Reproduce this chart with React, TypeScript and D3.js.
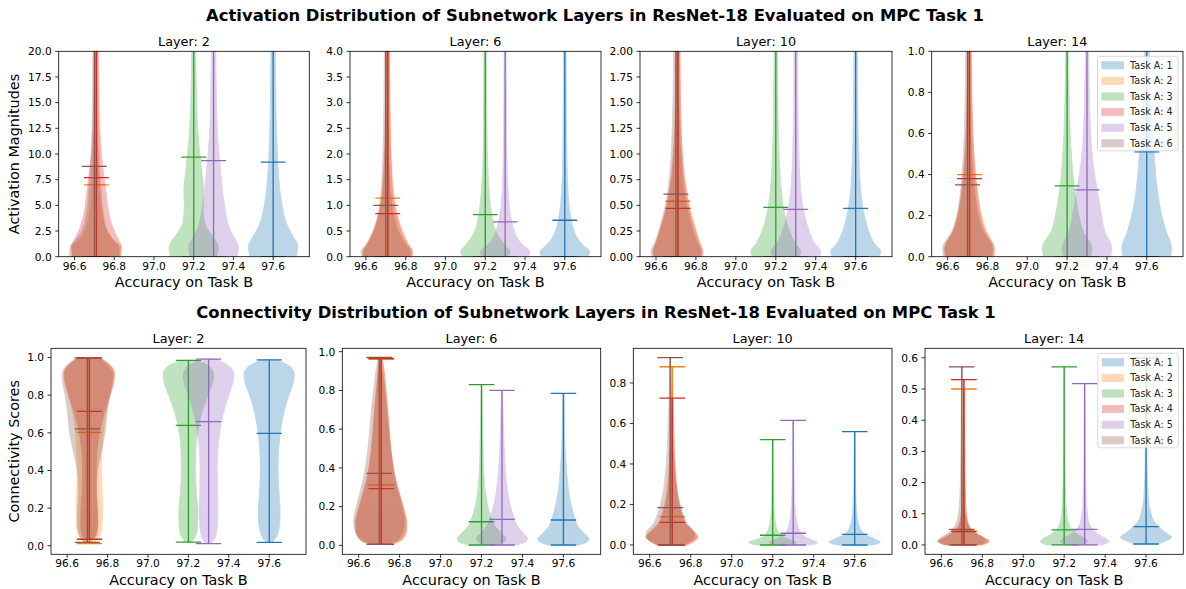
import React from "react";
import * as d3 from "d3";

type Profile = [number, number][];

// violins: one per Task A, placed at its accuracy on Task B
const taskLabels = ["Task A: 1", "Task A: 2", "Task A: 3", "Task A: 4", "Task A: 5", "Task A: 6"];
const taskColors = ["#1f77b4", "#ff7f0e", "#2ca02c", "#d62728", "#9467bd", "#8c564b"];
const taskAccuracy = [97.6, 96.71, 97.2, 96.71, 97.3, 96.7];
const layers = [2, 6, 10, 14];
const xTicks = [96.6, 96.8, 97.0, 97.2, 97.4, 97.6];
const xDomain: [number, number] = [96.52, 97.782];
const violinWidth = 0.25;

// activation magnitudes (top row)
const actYDomains: [number, number][] = [[0, 20], [0, 4], [0, 2], [0, 1]];
const actYTicks = [
  [0, 2.5, 5, 7.5, 10, 12.5, 15, 17.5, 20],
  [0, 0.5, 1, 1.5, 2, 2.5, 3, 3.5, 4],
  [0, 0.25, 0.5, 0.75, 1, 1.25, 1.5, 1.75, 2],
  [0, 0.2, 0.4, 0.6, 0.8, 1],
];
const actTickDigits = [1, 1, 2, 1];
const actMeans = [
  [9.2, 7.0, 9.7, 7.7, 9.35, 8.8],
  [0.71, 1.14, 0.82, 0.84, 0.68, 1.0],
  [0.47, 0.54, 0.48, 0.47, 0.46, 0.61],
  [0.51, 0.4, 0.345, 0.38, 0.325, 0.35],
];
const actMins = [
  [0, 0, 0, 0, 0, 0],
  [0, 0, 0, 0, 0, 0],
  [0, 0, 0, 0, 0, 0],
  [0, 0, 0, 0, 0, 0],
];
const actMaxes = [
  [25, 25, 25, 25, 25, 25],
  [5, 5, 5, 5, 5, 5],
  [2.5, 2.5, 2.5, 2.5, 2.5, 2.5],
  [1.2, 1.2, 1.2, 1.2, 1.2, 1.2],
];

const actLayer2: Profile[] = [
  [[0, 0.93], [1, 1], [1.8, 0.85], [2.6, 0.66], [3.5, 0.5], [5, 0.36], [7.5, 0.23], [10, 0.17], [12.5, 0.13], [15, 0.11], [20, 0.09], [25, 0.07]],
  [[0, 0.98], [1, 1], [1.5, 0.75], [2.5, 0.45], [4, 0.3], [6, 0.2], [8, 0.15], [10, 0.11], [15, 0.07], [20, 0.05], [25, 0.04]],
  [[0, 0.93], [0.8, 1], [1.5, 0.9], [2.5, 0.6], [3.5, 0.42], [5, 0.38], [6.5, 0.4], [8, 0.34], [10, 0.25], [12.5, 0.16], [15, 0.12], [20, 0.08], [25, 0.06]],
  [[0, 0.95], [1, 1], [1.6, 0.9], [2.5, 0.72], [4, 0.52], [6, 0.4], [8, 0.3], [10, 0.2], [12.5, 0.14], [15, 0.11], [20, 0.08], [25, 0.06]],
  [[0, 0.95], [1, 1], [1.8, 0.85], [2.6, 0.67], [3.5, 0.55], [5, 0.44], [7.5, 0.32], [10, 0.22], [12.5, 0.15], [15, 0.12], [20, 0.09], [25, 0.07]],
  [[0, 1], [1, 0.98], [1.5, 0.8], [2.5, 0.5], [4, 0.33], [6, 0.24], [8, 0.18], [10, 0.13], [15, 0.08], [20, 0.06], [25, 0.05]],
];
const actLayer6: Profile[] = [
  [[0, 0.93], [0.1, 1], [0.2, 0.8], [0.3, 0.6], [0.5, 0.38], [0.8, 0.23], [1.2, 0.14], [1.8, 0.09], [2.5, 0.07], [3.2, 0.06], [4, 0.05], [5, 0.04]],
  [[0, 1], [0.1, 0.98], [0.25, 0.82], [0.5, 0.6], [0.8, 0.4], [1.2, 0.25], [1.8, 0.15], [2.5, 0.1], [3.2, 0.08], [4, 0.07], [5, 0.06]],
  [[0, 0.92], [0.1, 1], [0.2, 0.84], [0.35, 0.6], [0.5, 0.42], [0.8, 0.27], [1.2, 0.17], [1.8, 0.1], [2.5, 0.07], [3.2, 0.06], [4, 0.05], [5, 0.04]],
  [[0, 0.95], [0.1, 1], [0.25, 0.8], [0.5, 0.55], [0.8, 0.36], [1.2, 0.22], [1.8, 0.14], [2.5, 0.1], [3.2, 0.08], [4, 0.07], [5, 0.06]],
  [[0, 0.94], [0.1, 1], [0.2, 0.78], [0.3, 0.58], [0.5, 0.37], [0.8, 0.22], [1.2, 0.13], [1.8, 0.08], [2.5, 0.06], [3.2, 0.05], [4, 0.04], [5, 0.035]],
  [[0, 0.97], [0.1, 1], [0.25, 0.78], [0.5, 0.5], [0.8, 0.32], [1.2, 0.2], [1.8, 0.13], [2.5, 0.09], [3.2, 0.07], [4, 0.06], [5, 0.05]],
];
const actLayer10: Profile[] = [
  [[0, 0.95], [0.05, 1], [0.13, 0.75], [0.25, 0.52], [0.4, 0.35], [0.6, 0.22], [0.9, 0.14], [1.4, 0.09], [2, 0.07], [2.5, 0.06]],
  [[0, 1], [0.05, 0.98], [0.15, 0.86], [0.3, 0.68], [0.45, 0.5], [0.6, 0.38], [0.8, 0.26], [1.1, 0.16], [1.5, 0.1], [2, 0.08], [2.5, 0.07]],
  [[0, 0.95], [0.05, 1], [0.13, 0.78], [0.25, 0.55], [0.4, 0.37], [0.6, 0.24], [0.9, 0.15], [1.4, 0.09], [2, 0.07], [2.5, 0.06]],
  [[0, 0.95], [0.05, 1], [0.15, 0.85], [0.3, 0.65], [0.45, 0.48], [0.6, 0.36], [0.8, 0.24], [1.1, 0.15], [1.5, 0.1], [2, 0.08], [2.5, 0.07]],
  [[0, 0.96], [0.05, 1], [0.13, 0.76], [0.25, 0.54], [0.4, 0.36], [0.6, 0.22], [0.9, 0.14], [1.4, 0.09], [2, 0.07], [2.5, 0.06]],
  [[0, 0.97], [0.05, 1], [0.15, 0.83], [0.3, 0.63], [0.45, 0.47], [0.6, 0.35], [0.8, 0.25], [1.1, 0.17], [1.5, 0.12], [2, 0.09], [2.5, 0.08]],
];
const actLayer14: Profile[] = [
  [[0, 0.96], [0.04, 1], [0.13, 0.76], [0.25, 0.52], [0.4, 0.36], [0.55, 0.27], [0.7, 0.19], [0.85, 0.13], [1, 0.1], [1.2, 0.07]],
  [[0, 1], [0.04, 0.98], [0.13, 0.66], [0.22, 0.45], [0.3, 0.34], [0.45, 0.21], [0.6, 0.14], [0.8, 0.09], [1, 0.07], [1.2, 0.06]],
  [[0, 0.94], [0.04, 1], [0.13, 0.62], [0.22, 0.44], [0.3, 0.33], [0.45, 0.2], [0.6, 0.13], [0.8, 0.08], [1, 0.06], [1.2, 0.05]],
  [[0, 0.95], [0.04, 1], [0.13, 0.62], [0.22, 0.42], [0.3, 0.32], [0.45, 0.2], [0.6, 0.13], [0.8, 0.09], [1, 0.07], [1.2, 0.06]],
  [[0, 0.95], [0.04, 1], [0.13, 0.7], [0.22, 0.56], [0.3, 0.45], [0.45, 0.25], [0.6, 0.15], [0.8, 0.09], [1, 0.07], [1.2, 0.06]],
  [[0, 0.97], [0.04, 1], [0.13, 0.6], [0.22, 0.4], [0.3, 0.3], [0.45, 0.19], [0.6, 0.13], [0.8, 0.09], [1, 0.07], [1.2, 0.06]],
];

// connectivity scores (bottom row)
const conYDomains: [number, number][] = [[-0.045, 1.049], [-0.046, 1.0175], [-0.046, 0.971], [-0.03, 0.6305]];
const conYTicks = [
  [0, 0.2, 0.4, 0.6, 0.8, 1],
  [0, 0.2, 0.4, 0.6, 0.8, 1],
  [0, 0.2, 0.4, 0.6, 0.8],
  [0, 0.1, 0.2, 0.3, 0.4, 0.5, 0.6],
];
const conTickDigits = [1, 1, 1, 1];
const conMeans = [
  [0.597, 0.603, 0.64, 0.714, 0.66, 0.621],
  [0.131, 0.312, 0.122, 0.293, 0.134, 0.372],
  [0.052, 0.14, 0.048, 0.112, 0.058, 0.184],
  [0.059, 0.045, 0.048, 0.043, 0.05, 0.05],
];
const conMins = [
  [0.018, 0.012, 0.02, 0.035, 0.012, 0.018],
  [0.002, 0.005, 0.002, 0.005, 0.002, 0.005],
  [0, 0, 0, 0, 0, 0],
  [0.003, 0, 0, 0, 0, 0],
];
const conMaxes = [
  [0.988, 0.995, 0.985, 0.998, 0.992, 0.998],
  [0.785, 0.96, 0.83, 0.965, 0.8, 0.97],
  [0.56, 0.88, 0.52, 0.725, 0.615, 0.925],
  [0.6, 0.5, 0.571, 0.53, 0.517, 0.571],
];

const conLayer2: Profile[] = [
  [[0.018, 0.12], [0.04, 0.25], [0.08, 0.37], [0.15, 0.43], [0.22, 0.42], [0.32, 0.37], [0.42, 0.35], [0.52, 0.38], [0.62, 0.46], [0.72, 0.6], [0.8, 0.78], [0.87, 0.96], [0.91, 1], [0.95, 0.85], [0.988, 0.3]],
  [[0.012, 0.15], [0.04, 0.35], [0.1, 0.5], [0.2, 0.52], [0.3, 0.5], [0.4, 0.48], [0.5, 0.5], [0.6, 0.55], [0.7, 0.65], [0.8, 0.82], [0.87, 0.96], [0.91, 1], [0.95, 0.88], [0.995, 0.45]],
  [[0.02, 0.12], [0.05, 0.28], [0.1, 0.36], [0.18, 0.38], [0.28, 0.32], [0.4, 0.28], [0.5, 0.29], [0.6, 0.36], [0.7, 0.52], [0.8, 0.78], [0.87, 0.97], [0.91, 1], [0.95, 0.85], [0.985, 0.3]],
  [[0.035, 0.15], [0.06, 0.3], [0.12, 0.34], [0.2, 0.33], [0.3, 0.28], [0.4, 0.27], [0.5, 0.3], [0.6, 0.4], [0.7, 0.58], [0.8, 0.82], [0.87, 0.97], [0.91, 1], [0.95, 0.9], [0.998, 0.45]],
  [[0.012, 0.1], [0.04, 0.25], [0.1, 0.34], [0.2, 0.37], [0.3, 0.35], [0.4, 0.34], [0.5, 0.36], [0.6, 0.44], [0.7, 0.58], [0.8, 0.8], [0.87, 0.97], [0.91, 1], [0.95, 0.85], [0.992, 0.3]],
  [[0.018, 0.12], [0.05, 0.3], [0.12, 0.4], [0.2, 0.38], [0.3, 0.35], [0.4, 0.4], [0.5, 0.55], [0.6, 0.7], [0.7, 0.78], [0.8, 0.88], [0.87, 0.98], [0.91, 1], [0.95, 0.88], [0.998, 0.45]],
];
const conLayer6: Profile[] = [
  [[0.002, 0.6], [0.02, 0.95], [0.035, 1], [0.06, 0.82], [0.1, 0.56], [0.15, 0.42], [0.2, 0.32], [0.28, 0.2], [0.38, 0.13], [0.5, 0.07], [0.65, 0.04], [0.785, 0.02]],
  [[0.005, 0.45], [0.03, 0.85], [0.08, 1], [0.12, 0.99], [0.18, 0.9], [0.25, 0.76], [0.32, 0.6], [0.42, 0.46], [0.55, 0.35], [0.7, 0.26], [0.82, 0.18], [0.92, 0.1], [0.96, 0.04]],
  [[0.002, 0.55], [0.02, 0.9], [0.035, 0.95], [0.06, 0.8], [0.1, 0.52], [0.15, 0.36], [0.2, 0.25], [0.28, 0.15], [0.38, 0.09], [0.5, 0.06], [0.65, 0.04], [0.83, 0.02]],
  [[0.005, 0.4], [0.03, 0.8], [0.08, 0.98], [0.12, 1], [0.18, 0.9], [0.25, 0.75], [0.32, 0.6], [0.42, 0.45], [0.55, 0.34], [0.7, 0.25], [0.82, 0.17], [0.92, 0.09], [0.965, 0.03]],
  [[0.002, 0.6], [0.02, 0.95], [0.035, 1], [0.06, 0.85], [0.1, 0.6], [0.15, 0.45], [0.2, 0.34], [0.28, 0.22], [0.38, 0.14], [0.5, 0.09], [0.65, 0.05], [0.8, 0.02]],
  [[0.005, 0.35], [0.03, 0.75], [0.08, 0.95], [0.12, 1], [0.18, 0.93], [0.25, 0.8], [0.32, 0.66], [0.42, 0.52], [0.55, 0.4], [0.7, 0.3], [0.82, 0.2], [0.92, 0.1], [0.97, 0.03]],
];
const conLayer10: Profile[] = [
  [[0, 0.7], [0.015, 1], [0.03, 0.78], [0.045, 0.5], [0.065, 0.3], [0.1, 0.16], [0.15, 0.09], [0.25, 0.045], [0.4, 0.025], [0.56, 0.015]],
  [[0, 0.6], [0.02, 0.9], [0.04, 1], [0.07, 0.84], [0.1, 0.6], [0.15, 0.42], [0.2, 0.3], [0.3, 0.18], [0.4, 0.12], [0.55, 0.07], [0.7, 0.04], [0.88, 0.02]],
  [[0, 0.7], [0.012, 0.93], [0.025, 0.7], [0.04, 0.4], [0.06, 0.24], [0.1, 0.12], [0.15, 0.07], [0.25, 0.04], [0.4, 0.02], [0.52, 0.015]],
  [[0, 0.55], [0.02, 0.85], [0.04, 1], [0.07, 0.8], [0.1, 0.55], [0.15, 0.38], [0.2, 0.27], [0.3, 0.15], [0.4, 0.1], [0.55, 0.06], [0.65, 0.04], [0.725, 0.02]],
  [[0, 0.7], [0.012, 0.95], [0.025, 0.75], [0.04, 0.48], [0.06, 0.3], [0.1, 0.17], [0.15, 0.1], [0.25, 0.05], [0.4, 0.03], [0.615, 0.015]],
  [[0, 0.5], [0.02, 0.8], [0.04, 0.96], [0.07, 0.9], [0.1, 0.68], [0.15, 0.5], [0.2, 0.38], [0.3, 0.23], [0.4, 0.15], [0.55, 0.09], [0.7, 0.05], [0.925, 0.02]],
];
const conLayer14: Profile[] = [
  [[0.003, 0.45], [0.012, 0.75], [0.025, 1], [0.04, 0.75], [0.055, 0.55], [0.075, 0.32], [0.1, 0.2], [0.13, 0.12], [0.18, 0.07], [0.25, 0.04], [0.4, 0.02], [0.6, 0.012]],
  [[0, 0.72], [0.012, 0.98], [0.022, 0.82], [0.035, 0.55], [0.05, 0.3], [0.07, 0.17], [0.1, 0.1], [0.15, 0.06], [0.25, 0.035], [0.4, 0.02], [0.5, 0.015]],
  [[0, 0.7], [0.012, 0.93], [0.022, 0.78], [0.035, 0.5], [0.05, 0.3], [0.07, 0.17], [0.1, 0.1], [0.15, 0.06], [0.25, 0.035], [0.4, 0.02], [0.571, 0.012]],
  [[0, 0.7], [0.012, 1], [0.022, 0.8], [0.035, 0.5], [0.05, 0.28], [0.07, 0.16], [0.1, 0.1], [0.15, 0.06], [0.25, 0.035], [0.4, 0.02], [0.53, 0.015]],
  [[0, 0.7], [0.012, 0.95], [0.022, 0.8], [0.035, 0.52], [0.05, 0.32], [0.07, 0.18], [0.1, 0.11], [0.15, 0.065], [0.25, 0.035], [0.4, 0.02], [0.517, 0.012]],
  [[0, 0.66], [0.012, 0.95], [0.022, 0.85], [0.035, 0.6], [0.05, 0.36], [0.07, 0.22], [0.1, 0.13], [0.15, 0.08], [0.25, 0.045], [0.4, 0.025], [0.571, 0.015]],
];

const actProfiles = [actLayer2, actLayer6, actLayer10, actLayer14];
const conProfiles = [conLayer2, conLayer6, conLayer10, conLayer14];

const FONT = "DejaVu Sans";
const W = 1186;
const H = 589;

interface Box {
  x0: number;
  x1: number;
  y0: number;
  y1: number;
}

const topBoxes: Box[] = [
  { x0: 58.7, x1: 309.3, y0: 51.3, y1: 256.7 },
  { x0: 350, x1: 601, y0: 51.3, y1: 256.7 },
  { x0: 640, x1: 892, y0: 51.3, y1: 256.7 },
  { x0: 931.7, x1: 1183, y0: 51.3, y1: 256.7 },
];
const bottomBoxes: Box[] = [
  { x0: 51, x1: 306, y0: 348.3, y1: 554.3 },
  { x0: 342.3, x1: 600.7, y0: 348.3, y1: 554.3 },
  { x0: 633.3, x1: 892, y0: 348.3, y1: 554.3 },
  { x0: 925, x1: 1183.3, y0: 348.3, y1: 554.3 },
];

interface PanelProps {
  id: string;
  box: Box;
  layer: number;
  yDomain: [number, number];
  yTicks: number[];
  digits: number;
  profiles: Profile[];
  means: number[];
  mins: number[];
  maxes: number[];
  showMaxCaps: boolean;
  yLabel?: string;
  legend?: boolean;
}

function Legend({ box }: { box: Box }) {
  const w = 80.5;
  const h = 94.5;
  const lx = box.x1 - 5 - w;
  const ly = box.y0 + 5;
  return (
    <g>
      <rect x={lx} y={ly} width={w} height={h} rx={2.5} fill="#fff" fillOpacity={0.8} stroke="#d0d0d0" strokeWidth={0.8} />
      {taskLabels.map((label, i) => {
        const cy = ly + 9 + i * 15.6;
        return (
          <g key={label}>
            <rect x={lx + 4.3} y={cy - 3.6} width={21.6} height={7.2} fill={taskColors[i]} stroke={taskColors[i]} strokeWidth={0.8} opacity={0.3} />
            <text x={lx + 32.5} y={cy} dy="0.35em" fontSize={9.6} fill="#222">
              {label}
            </text>
          </g>
        );
      })}
    </g>
  );
}

function ViolinPanel(props: PanelProps) {
  const { id, box, layer, yDomain, yTicks, digits, profiles, means, mins, maxes, showMaxCaps, yLabel, legend } = props;
  const x = d3.scaleLinear().domain(xDomain).range([box.x0, box.x1]);
  const y = d3.scaleLinear().domain(yDomain).range([box.y1, box.y0]);
  const half = violinWidth / 2;
  const cap = violinWidth / 4;
  const fmt = d3.format(`.${digits}f`);

  return (
    <g>
      <defs>
        <clipPath id={id}>
          <rect x={box.x0} y={box.y0} width={box.x1 - box.x0} height={box.y1 - box.y0} />
        </clipPath>
      </defs>
      <g clipPath={`url(#${id})`}>
        {profiles.map((profile, i) => {
          const pos = taskAccuracy[i];
          const c = taskColors[i];
          const area = d3
            .area<[number, number]>()
            .curve(d3.curveMonotoneY)
            .y((d) => y(d[0]))
            .x0((d) => x(pos - d[1] * half))
            .x1((d) => x(pos + d[1] * half));
          const caps = showMaxCaps ? [mins[i], maxes[i], means[i]] : [mins[i], means[i]];
          return (
            <g key={i}>
              <path d={area(profile) ?? ""} fill={c} stroke={c} strokeWidth={0.8} opacity={0.3} />
              <line x1={x(pos)} x2={x(pos)} y1={y(mins[i])} y2={y(maxes[i])} stroke={c} strokeWidth={1.3} />
              {caps.map((v, k) => (
                <line key={k} x1={x(pos - cap)} x2={x(pos + cap)} y1={y(v)} y2={y(v)} stroke={c} strokeWidth={1.3} />
              ))}
            </g>
          );
        })}
      </g>
      {legend ? <Legend box={box} /> : null}
      <rect x={box.x0} y={box.y0} width={box.x1 - box.x0} height={box.y1 - box.y0} fill="none" stroke="#000" strokeWidth={0.8} />
      {xTicks.map((t) => (
        <g key={t}>
          <line x1={x(t)} x2={x(t)} y1={box.y1} y2={box.y1 + 3.5} stroke="#000" strokeWidth={0.8} />
          <text x={x(t)} y={box.y1 + 13} textAnchor="middle" fontSize={10.6} fill="#000">
            {t.toFixed(1)}
          </text>
        </g>
      ))}
      {yTicks.map((t) => (
        <g key={t}>
          <line x1={box.x0 - 3.5} x2={box.x0} y1={y(t)} y2={y(t)} stroke="#000" strokeWidth={0.8} />
          <text x={box.x0 - 7} y={y(t)} dy="0.36em" textAnchor="end" fontSize={10.6} fill="#000">
            {fmt(t)}
          </text>
        </g>
      ))}
      <text x={(box.x0 + box.x1) / 2} y={box.y0 - 5} textAnchor="middle" fontSize={12.8} fill="#000">
        {`Layer: ${layer}`}
      </text>
      <text x={(box.x0 + box.x1) / 2} y={box.y1 + 30.5} textAnchor="middle" fontSize={14.4} fill="#000">
        Accuracy on Task B
      </text>
      {yLabel ? (
        <text
          transform={`translate(19,${(box.y0 + box.y1) / 2}) rotate(-90)`}
          textAnchor="middle"
          fontSize={14.4}
          fill="#000"
        >
          {yLabel}
        </text>
      ) : null}
    </g>
  );
}

export default function App() {
  return (
    <svg
      width={W}
      height={H}
      viewBox={`0 0 ${W} ${H}`}
      style={{ position: "absolute", left: 0, top: 0, background: "#fff" }}
      fontFamily={FONT}
    >
      <rect width={W} height={H} fill="#fff" />
      <text x={595} y={21} textAnchor="middle" fontSize={16.4} fontWeight="bold" fill="#000">
        Activation Distribution of Subnetwork Layers in ResNet-18 Evaluated on MPC Task 1
      </text>
      <text x={596} y={318} textAnchor="middle" fontSize={16.4} fontWeight="bold" fill="#000">
        Connectivity Distribution of Subnetwork Layers in ResNet-18 Evaluated on MPC Task 1
      </text>
      {layers.map((layer, li) => (
        <ViolinPanel
          key={`act-${layer}`}
          id={`act-clip-${layer}`}
          box={topBoxes[li]}
          layer={layer}
          yDomain={actYDomains[li]}
          yTicks={actYTicks[li]}
          digits={actTickDigits[li]}
          profiles={actProfiles[li]}
          means={actMeans[li]}
          mins={actMins[li]}
          maxes={actMaxes[li]}
          showMaxCaps={false}
          yLabel={li === 0 ? "Activation Magnitudes" : undefined}
          legend={li === 3}
        />
      ))}
      {layers.map((layer, li) => (
        <ViolinPanel
          key={`con-${layer}`}
          id={`con-clip-${layer}`}
          box={bottomBoxes[li]}
          layer={layer}
          yDomain={conYDomains[li]}
          yTicks={conYTicks[li]}
          digits={conTickDigits[li]}
          profiles={conProfiles[li]}
          means={conMeans[li]}
          mins={conMins[li]}
          maxes={conMaxes[li]}
          showMaxCaps={true}
          yLabel={li === 0 ? "Connectivity Scores" : undefined}
          legend={li === 3}
        />
      ))}
    </svg>
  );
}
